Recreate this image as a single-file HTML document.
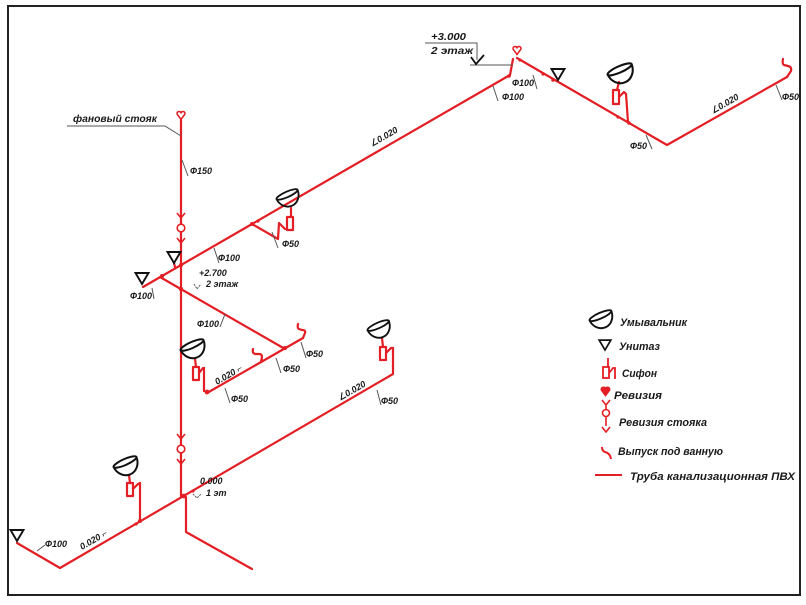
<!DOCTYPE html>
<html><head><meta charset="utf-8"><style>
html,body{margin:0;padding:0;background:#fff;}
svg{display:block;}
text{font-family:"Liberation Sans","DejaVu Sans",sans-serif;font-style:italic;font-weight:bold;fill:#1a1a1a;}
.s{font-size:9px;}
.m{font-size:10px;}
.l{font-size:11px;}
</style></head><body>
<svg width="806" height="605" viewBox="0 0 806 605" xmlns="http://www.w3.org/2000/svg">
<defs>
  <g id="sink" fill="none" stroke="#111" stroke-width="2" stroke-linejoin="round">
    <ellipse cx="12" cy="7" rx="12.5" ry="3" transform="rotate(-24 12 7)"/>
    <path d="M0.6,12.1 A12.5,14 -24 0 0 23.4,1.9"/>
  </g>
  <g id="toilet" fill="none" stroke="#111" stroke-width="1.9" stroke-linejoin="miter">
    <path d="M-6.5,-11 L6.5,-11 L0,0 Z"/>
  </g>
  <g id="rev" fill="none" stroke="#e31e24" stroke-width="1.5">
    <path d="M-4,-3 Q-4,-5.5 -2,-5.5 Q0,-5.5 0,-3.5 Q0,-5.5 2,-5.5 Q4,-5.5 4,-3 L0,2.5 Z"/>
  </g>
  <g id="revs" fill="#fff" stroke="#e31e24" stroke-width="1.6">
    <path d="M-4,-15 L0,-10 L4,-15" fill="none"/>
    <circle cx="0" cy="0" r="3.8"/>
    <path d="M-4,10 L0,15 L4,10" fill="none"/>
  </g>
</defs>

<rect x="8" y="6" width="792" height="589" fill="none" stroke="#222" stroke-width="2"/>

<g fill="none" stroke="#e31e24" stroke-width="2.2" stroke-linejoin="round" stroke-linecap="round">
  <line x1="181" y1="120" x2="181" y2="496"/>
  <polyline points="143,287 510,75 513,59"/>
  <polyline points="517,58 667,145 787,77"/>
  <line x1="160" y1="277" x2="285" y2="349"/>
  <line x1="207" y1="393" x2="303" y2="338"/>
  <polyline points="252,224 278,239 279,223 285,229"/>
  <polyline points="17,543 60,568 393,374 393,348"/>
  <polyline points="184,496 186,497 186,532 252,569"/>
  <line x1="140" y1="483" x2="140" y2="521"/>
  <line x1="204" y1="368" x2="204" y2="391"/>
  <line x1="626" y1="94" x2="628" y2="122"/>
  <line x1="174" y1="263" x2="175" y2="267"/>
  <path d="M787,77 L791,71 Q792,67 788,66 L784,65 Q782,64 783,59"/>
  <path d="M303,338 L305,333 Q306,330 302,330 L299,329 Q297,328 298,324"/>
  <path d="M261,362 L262,357 Q262,354 259,354 L255,354 Q252,353 253,349"/>
  <rect x="287" y="217" width="6" height="13"/>
  <line x1="291" y1="208" x2="291" y2="217"/>
  <rect x="613" y="90" width="6" height="14"/>
  <path d="M619,97 L624,92 L626,94"/>
  <line x1="619" y1="82" x2="617" y2="90"/>
  <rect x="193" y="367" width="6" height="13"/>
  <path d="M199,373 L203,368 L204,368"/>
  <line x1="195" y1="359" x2="196" y2="367"/>
  <rect x="380" y="347" width="6" height="13"/>
  <path d="M386,353 L391,348 L393,348"/>
  <line x1="382" y1="338" x2="383" y2="347"/>
  <rect x="127" y="483" width="6" height="13"/>
  <path d="M133,489 L138,484 L140,483"/>
  <line x1="129" y1="475" x2="130" y2="483"/>
</g>
<g fill="#e31e24">
  <circle cx="162" cy="276" r="2"/><circle cx="181" cy="265" r="2"/><circle cx="181" cy="289" r="2.2"/>
  <circle cx="252" cy="224" r="2"/><circle cx="258" cy="221" r="1.6"/>
  <circle cx="509" cy="76" r="1.8"/><circle cx="520" cy="60" r="1.6"/>
  <circle cx="543" cy="74" r="1.6"/><circle cx="553" cy="80" r="1.8"/>
  <circle cx="618" cy="117" r="1.6"/><circle cx="629" cy="123" r="1.8"/>
  <circle cx="285" cy="348" r="2"/><circle cx="262" cy="361" r="1.6"/>
  <circle cx="207" cy="392" r="2.4"/>
  <circle cx="184" cy="496" r="2.4"/><circle cx="193" cy="491" r="1.6"/>
  <circle cx="140" cy="521" r="2"/><circle cx="136" cy="524" r="1.6"/>
</g>

<use href="#rev" transform="translate(181,117)"/>
<use href="#rev" transform="translate(517,52)"/>
<use href="#revs" transform="translate(181,228)"/>
<use href="#revs" transform="translate(181,449)"/>

<use href="#toilet" transform="translate(142,284)"/>
<use href="#toilet" transform="translate(174,263)"/>
<use href="#toilet" transform="translate(558,80)"/>
<use href="#toilet" transform="translate(17,541)"/>

<use href="#sink" transform="translate(276,188) scale(0.92)"/>
<use href="#sink" transform="translate(607,62) scale(1.05)"/>
<use href="#sink" transform="translate(180,338)"/>
<use href="#sink" transform="translate(367,319) scale(0.93)"/>
<use href="#sink" transform="translate(113,455)"/>

<g fill="none" stroke="#555" stroke-width="1">
  <polyline points="67,126 165,126 181,136"/>
  <line x1="182" y1="160" x2="188" y2="176"/>
  <line x1="214" y1="248" x2="219" y2="263"/>
  <line x1="272" y1="232" x2="278" y2="248"/>
  <line x1="152" y1="288" x2="154" y2="299"/>
  <line x1="225" y1="314" x2="220" y2="327"/>
  <line x1="225" y1="388" x2="230" y2="403"/>
  <line x1="276" y1="358" x2="281" y2="373"/>
  <line x1="301" y1="342" x2="306" y2="358"/>
  <line x1="377" y1="390" x2="381" y2="405"/>
  <line x1="37" y1="551" x2="45" y2="545"/>
  <line x1="533" y1="75" x2="537" y2="89"/>
  <line x1="493" y1="86" x2="498" y2="101"/>
  <line x1="646" y1="135" x2="652" y2="149"/>
  <line x1="776" y1="85" x2="782" y2="100"/>
  <polyline points="425,43 477,43 477,60"/>
  <polyline points="470,65 513,65"/>
  <path d="M194,284 L197,289 L201,284" stroke-dasharray="2,1"/>
  <path d="M193,494 L197,498 L201,494" stroke-dasharray="2,1"/>
</g>
<path d="M471,57 L476,64 L484,55" fill="none" stroke="#111" stroke-width="1.8"/>

<text class="m" x="73" y="122" textLength="84" lengthAdjust="spacingAndGlyphs">фановый стояк</text>
<text class="s" x="190" y="174">Ф150</text>
<text class="s" x="218" y="261">Ф100</text>
<text class="s" x="282" y="247">Ф50</text>
<text class="s" x="199" y="276">+2.700</text>
<text class="s" x="206" y="287">2 этаж</text>
<text class="s" x="130" y="299">Ф100</text>
<text class="s" x="197" y="327">Ф100</text>
<text class="s" x="231" y="402">Ф50</text>
<text class="s" x="283" y="372">Ф50</text>
<text class="s" x="306" y="357">Ф50</text>
<text class="s" x="381" y="404">Ф50</text>
<text class="s" x="200" y="484">0.000</text>
<text class="s" x="206" y="496">1 эт</text>
<text class="s" x="45" y="547">Ф100</text>
<text class="m" x="431" y="40" textLength="35" lengthAdjust="spacingAndGlyphs">+3.000</text>
<text class="m" x="431" y="54" textLength="42" lengthAdjust="spacingAndGlyphs">2 этаж</text>
<text class="s" x="512" y="86">Ф100</text>
<text class="s" x="502" y="100">Ф100</text>
<text class="s" x="630" y="149">Ф50</text>
<text class="s" x="782" y="100">Ф50</text>

<text class="s" x="372" y="147" transform="rotate(-30 372 147)">∠0.020</text>
<text class="s" x="713" y="114" transform="rotate(-30 713 114)">∠0.020</text>
<text class="s" x="340" y="401" transform="rotate(-30 340 401)">∠0.020</text>
<text class="s" x="217" y="385" transform="rotate(-30 217 385)">0.020 ⌐</text>
<text class="s" x="82" y="550" transform="rotate(-30 82 550)">0.020 ⌐</text>

<use href="#sink" transform="translate(589,309) scale(0.95)"/>
<text class="l" x="620" y="326" textLength="67" lengthAdjust="spacingAndGlyphs">Умывальник</text>
<use href="#toilet" transform="translate(605,350) scale(0.9)"/>
<text class="l" x="619" y="350" textLength="41" lengthAdjust="spacingAndGlyphs">Унитаз</text>
<g fill="none" stroke="#e31e24" stroke-width="1.8">
  <line x1="608" y1="358" x2="608" y2="367"/>
  <rect x="603" y="367" width="6" height="11"/>
  <path d="M609,373 L613,368 L615,368 L615,379"/>
</g>
<text class="l" x="622" y="377" textLength="35" lengthAdjust="spacingAndGlyphs">Сифон</text>
<path d="M601,390 Q601,387 603.5,387 Q605.5,387 605.5,389 Q605.5,387 607.5,387 Q610,387 610,390 L605.5,396 Z" fill="#e31e24" stroke="#e31e24" stroke-width="1"/>
<text class="l" x="614" y="399" textLength="48" lengthAdjust="spacingAndGlyphs">Ревизия</text>
<g fill="none" stroke="#e31e24" stroke-width="1.6">
  <path d="M602,400 L606,405 L610,400 M606,405 L606,409"/>
  <circle cx="606" cy="413" r="3.5"/>
  <path d="M606,417 L606,426 M602,427 L606,432 L610,427"/>
</g>
<text class="l" x="619" y="426" textLength="88" lengthAdjust="spacingAndGlyphs">Ревизия стояка</text>
<path d="M602,447 Q602,451 605,452 Q610,453 611,459" fill="none" stroke="#e31e24" stroke-width="2"/>
<text class="l" x="618" y="455" textLength="105" lengthAdjust="spacingAndGlyphs">Выпуск под ванную</text>
<line x1="595" y1="475" x2="622" y2="475" stroke="#e31e24" stroke-width="2"/>
<text class="l" x="630" y="480" textLength="165" lengthAdjust="spacingAndGlyphs">Труба канализационная ПВХ</text>
</svg>
</body></html>
